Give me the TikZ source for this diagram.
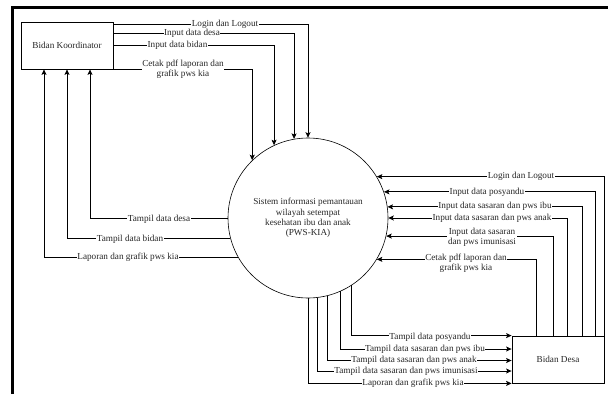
\documentclass[tikz,border=0pt]{standalone}
\usepackage{fontspec}
\setmainfont{Liberation Serif}
\usetikzlibrary{arrows.meta}
\begin{document}
\begin{tikzpicture}[x=1pt,y=-1pt,
  every node/.style={font=\fontsize{9.2}{10.3}\selectfont, text=black!85},
  boxnode/.style={draw, line width=0.8pt, minimum width=92pt, minimum height=47pt, inner sep=0pt},
  procnode/.style={draw, circle, line width=0.6pt, minimum size=160pt, inner sep=0pt, align=center},
  arr/.style={line width=0.8pt, -{Stealth[length=5.5pt,width=5pt,inset=1.2pt]}},
  ln/.style={line width=0.8pt},
  lbl/.style={fill=white, inner sep=0.6pt, align=center}]
\useasboundingbox (0,0) rectangle (608,394);
\draw[line width=2.5pt] (12.5,394) -- (12.5,7.5) -- (608,7.5);

\node[boxnode] (bk) at (67,45.5) {Bidan Koordinator};
\node[boxnode] (bd) at (558,359.5) {Bidan Desa};
\node[procnode] (c) at (308,218) {Sistem informasi pemantauan\\wilayah setempat\\kesehatan ibu dan anak\\(PWS-KIA)};

% Bidan Koordinator -> system
\draw[arr] (bk.east |- 0,24) -| (c.90);
\draw[arr] (bk.east |- 0,33) -| (c.100.8);
\draw[arr] (bk.east |- 0,45) -| (c.115.9);
\draw[arr] (bk.south east) -| (c.134.4);

% system -> Bidan Koordinator
\draw[arr] (c.180.7) -| (90,0 |- bk.south);
\draw[arr] (c.195.2) -| (67,0 |- bk.south);
\draw[arr] (c.209.2) -| (44,0 |- bk.south);

% Bidan Desa -> system
\draw[arr] (bd.north east) |- (c.31.7);
\draw[arr] (595,0 |- bd.north) |- (c.19.0);
\draw[arr] (582,0 |- bd.north) |- (c.8.6);
\draw[arr] (567,0 |- bd.north) |- (c.0);
\draw[arr] (553,0 |- bd.north) |- (c.347.0);
\draw[arr] (536,0 |- bd.north) |- (c.329.2);

% system -> Bidan Desa
\draw[arr] (c.303.4) |- (bd.north west);
\draw[arr] (c.294.4) |- (bd.west |- 0,349);
\draw[arr] (c.284.5) |- (bd.west |- 0,360.5);
\draw[arr] (c.277.9) |- (bd.west |- 0,371);
\draw[arr] (c.270) |- (bd.south west);

% labels
\node[lbl] (t1) at (225,24) {Login dan Logout};
\node[lbl] (t2) at (192,33) {Input data desa};
\node[lbl] (t3) at (177.5,45) {Input data bidan};
\node[lbl] (t4) at (183,69) {Cetak pdf laporan dan\\grafik pws kia};

\node[lbl] (t5) at (159,219) {Tampil data desa};
\node[lbl] (t6) at (130,239) {Tampil data bidan};
\node[lbl] (t7) at (128,257) {Laporan dan grafik pws kia};

\node[lbl] (t8) at (521,176) {Login dan Logout};
\node[lbl] (t9) at (487,192) {Input data posyandu};
\node[lbl] (t10) at (495,206) {Input data sasaran dan pws ibu};
\node[lbl] (t11) at (492,218) {Input data sasaran dan pws anak};
\node[lbl] (t12) at (482,237.5) {Input data sasaran\\dan pws imunisasi};
\node[lbl] (t13) at (466,263.5) {Cetak pdf laporan dan\\grafik pws kia};

\node[lbl] (t14) at (430,337) {Tampil data posyandu};
\node[lbl] (t15) at (425,349) {Tampil data sasaran dan pws ibu};
\node[lbl] (t16) at (414,360.5) {Tampil data sasaran dan pws anak};
\node[lbl] (t17) at (406,371) {Tampil data sasaran dan pws imunisasi};
\node[lbl] (t18) at (413,383) {Laporan dan grafik pws kia};
\end{tikzpicture}
\end{document}
